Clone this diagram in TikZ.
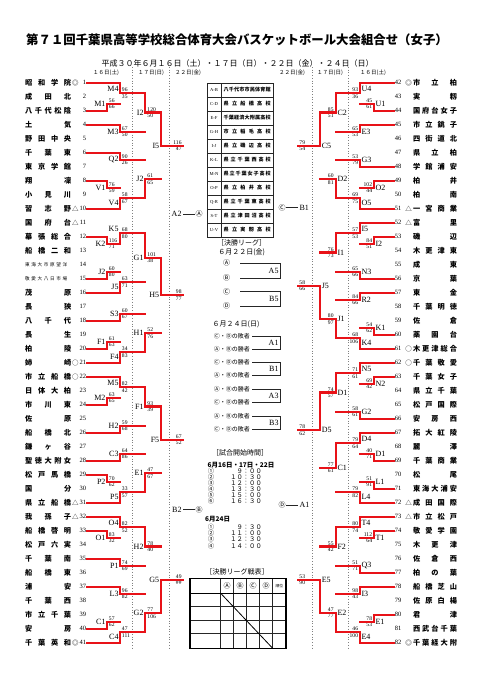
\documentclass[tikz,border=0pt]{standalone}
\usepackage{fontspec}
\setmainfont{Noto Sans CJK JP}
\newfontfamily\lat{Liberation Serif}
\usetikzlibrary{calc}
\pgfdeclarelayer{bg}
\pgfsetlayers{bg,main}
\definecolor{redc}{RGB}{232,18,24}
\makeatletter
\newcommand\spread[2]{\edef\sp@tmp{#2}\makebox[#1][s]{\expandafter\spread@a\sp@tmp\@nil}}
\def\spread@a#1#2\@nil{#1\ifx\relax#2\relax\else\hfill\spread@a#2\@nil\fi}
\makeatother
\def\labdy{0pt}
% match: id, x, top input, bottom input, code, top score, bottom score, label, score x
\newcommand\mt[9]{%
  \path let \p1=(#3), \p2=(#4) in coordinate (#1) at (#2pt,{0.5*\y1+0.5*\y2});
  \begin{pgfonlayer}{bg}\draw[bl] (#3) -- (#3 -| #1) -- (#4 -| #1) -- (#4);\end{pgfonlayer}
  \ifcase#5\relax
  \or \draw[rd] (#3) -- (#3 -| #1) -- (#1);
  \or \draw[rd] (#4) -- (#4 -| #1) -- (#1);
  \or \draw[rd] (#3) -- (#3 -| #1) -- (#1); \draw[rd] (#4) -- (#4 -| #1);
  \or \draw[rd] (#4) -- (#4 -| #1) -- (#1); \draw[rd] (#3) -- (#3 -| #1);
  \or \draw[rd] (#3) -- (#3 -| #1); \draw[rd] (#4) -- (#4 -| #1);
  \fi
  \node[lab,yshift=\labdy] (#1l) at (#1) {#8};
  \node[sc,sct] (#1a) at (#1 -| #9,0) {#6};
  \node[sc,scb] (#1b) at (#1 -| #9,0) {#7};
  \gdef\labdy{0pt}%
}
\newcommand\up{\gdef\labdy{4.5pt}}
\newcommand\dn{\gdef\labdy{-4.5pt}}
\begin{document}
\begin{tikzpicture}[x=1pt,y=-1pt,
  bl/.style={line width=0.7pt,black!85},
  rd/.style={line width=2.3pt,draw=redc,line cap=rect,line join=miter},
  dl/.style={line width=0.7pt,black!50,dotted},
  lab/.style={font=\fontsize{8}{8}\selectfont\lat,inner sep=0.3pt,anchor=east,xshift=-1pt},
  lab2/.style={font=\fontsize{8}{8}\selectfont\lat,inner sep=0.3pt,anchor=east},
  sc/.style={font=\fontsize{5.6}{6}\selectfont\lat,inner sep=0.25pt},
  sct/.style={anchor=south west,yshift=0.9pt},
  scb/.style={anchor=north west,yshift=-0.9pt},
  nm/.style={anchor=west,inner sep=0pt,font=\fontsize{7.2}{7}\selectfont\bfseries},
  num/.style={inner sep=0pt,font=\fontsize{6.5}{7}\selectfont\lat},
  sym/.style={inner sep=0pt,font=\fontsize{6.5}{7}\selectfont},
  cl/.style={inner sep=0pt,font=\fontsize{7}{7}\selectfont},
  jt/.style={inner sep=0pt}]
\useasboundingbox (0,0) rectangle (481,680);
\fill[white] (0,0) rectangle (481,680);
% titles
\node[jt,font=\fontsize{12.4}{13}\selectfont\bfseries] (title) at (237,40) {第７１回千葉県高等学校総合体育大会バスケットボール大会組合せ（女子）};
\node[jt,font=\fontsize{8}{9}\selectfont] (sub) at (237.5,63) {平成３０年６月１６日（土）・１７日（日）・２２日（金）・２４日（日）};
\node[jt,font=\fontsize{5.5}{6}\selectfont] (hl1) at (106,72.5) {１６日(土)};
\node[jt,font=\fontsize{5.5}{6}\selectfont] (hl2) at (151,72.5) {１７日(日)};
\node[jt,font=\fontsize{5.5}{6}\selectfont] (hl3) at (188,72.5) {２２日(金)};
\node[jt,font=\fontsize{5.5}{6}\selectfont] (hr3) at (292,72.5) {２２日(金)};
\node[jt,font=\fontsize{5.5}{6}\selectfont] (hr2) at (330,72.5) {１７日(日)};
\node[jt,font=\fontsize{5.5}{6}\selectfont] (hr1) at (373,72.5) {１６日(土)};
\draw[dl] (132.7,67) -- (132.7,650);
\draw[dl] (169,67) -- (169,650);
\draw[dl] (312,67) -- (312,650);
\draw[dl] (348.3,67) -- (348.3,650);
% left teams
\foreach \i in {1,...,41}{
  \coordinate (L\i) at (87,{82.7+14*(\i-1)});
  \node[num,anchor=east] (nL\i) at (86.3,{82.7+14*(\i-1)}) {\i};
}
\foreach \i/\n/\s in {1/昭和学院/◎,2/成田北/,3/八千代松陰/,4/土気/,5/野田中央/,6/千葉東/,7/東京学館/,8/翔凜/,9/小見川/,10/習志野/△,11/国府台/△,12/幕張総合/,13/船橋二和/,16/茂原/,17/長狭/,18/八千代/,19/長生/,20/柏陵/,21/姉崎/○,22/市立船橋/○,23/日体大柏/,24/市川東/,25/佐原/,26/船橋北/,27/鎌ヶ谷/,28/聖徳大附女/,29/松戸馬橋/,30/国分/,31/県立船橋/△,32/我孫子/△,33/船橋啓明/,34/松戸六実/,35/千葉南/,36/船橋東/,37/浦安/,38/千葉西/,39/市立千葉/,40/安房/,41/千葉英和/◎}{
  \node[nm] (tL\i) at (25,{82.7+14*(\i-1)}) {\spread{46pt}{\n}};
  \node[sym] (sL\i) at (75.3,{82.7+14*(\i-1)}) {\s};
}
\node[nm,font=\fontsize{4.6}{5}\selectfont] (tL14) at (25,264.7) {\spread{42pt}{東海大市原望洋}};
\node[nm,font=\fontsize{4.6}{5}\selectfont] (tL15) at (25,278.7) {\spread{42pt}{敬愛大八日市場}};
% right teams
\foreach \i in {42,...,82}{
  \coordinate (R\i) at (393.5,{82.7+14*(\i-42)});
  \node[num,anchor=west] (nR\i) at (394.6,{82.7+14*(\i-42)}) {\i};
}
\foreach \i/\n/\s in {42/市立柏/◎,43/実籾/,44/国府台女子/,45/市立銚子/,46/四街道北/,47/県立柏/,48/学館浦安/,49/柏井/,50/柏南/,51/一宮商業/△,52/富里/△,53/磯辺/,54/木更津東/,55/成東/,56/京葉/,57/東金/,58/千葉明徳/,59/佐倉/,60/薬園台/,61/木更津総合/○,62/千葉敬愛/○,63/千葉女子/,64/県立千葉/,65/松戸国際/,66/安房西/,67/拓大紅陵/,68/麗澤/,69/千葉商業/,70/松尾/,71/東海大浦安/,72/成田国際/△,73/市立松戸/△,74/敬愛学園/,75/木更津/,76/佐倉西/,77/柏の葉/,78/船橋芝山/,79/佐原白楊/,80/君津/,81/西武台千葉/,82/千葉経大附/◎}{
  \node[nm] (tR\i) at (412.8,{82.7+14*(\i-42)}) {\spread{44pt}{\n}};
  \node[sym] (sR\i) at (408.5,{82.7+14*(\i-42)}) {\s};
}
% ---------- left bracket
\mt{LM1}{107}{L2}{L3}{2}{56}{66}{M1}{108.5}
\mt{LV1}{107}{L8}{L9}{1}{76}{59}{V1}{108.5}
\mt{LK2}{107}{L12}{L13}{1}{116}{71}{K2}{108.5}
\mt{LJ2}{107}{L14}{L15}{2}{60}{80}{J2}{108.5}
\mt{LF1}{107}{L19}{L20}{2}{61}{63}{F1}{108.5}
\mt{LM2}{107}{L23}{L24}{2}{63}{65}{M2}{108.5}
\mt{LP2}{107}{L29}{L30}{1}{70}{62}{P2}{108.5}
\mt{LO1}{107}{L33}{L34}{1}{83}{32}{O1}{108.5}
\mt{LC1}{107}{L39}{L40}{2}{57}{62}{C1}{108.5}
\up\mt{LM4}{120}{L1}{LM1}{3}{96}{35}{M4}{121.5}
\mt{LM3}{120}{L4}{L5}{1}{67}{50}{M3}{121.5}
\mt{LQ2}{120}{L6}{L7}{1}{90}{26}{Q2}{121.5}
\dn\mt{LV4}{120}{LV1}{L10}{4}{58}{67}{V4}{121.5}
\up\mt{LK5}{120}{L11}{LK2}{2}{68}{80}{K5}{121.5}
\dn\mt{LJ5}{120}{LJ2}{L16}{4}{63}{71}{J5}{121.5}
\mt{LS3}{120}{L17}{L18}{2}{60}{67}{S3}{121.5}
\dn\mt{LF4}{120}{LF1}{L21}{4}{34}{83}{F4}{121.5}
\up\mt{LM5}{120}{L22}{LM2}{3}{82}{42}{M5}{121.5}
\mt{LH2}{120}{L25}{L26}{2}{59}{68}{H2}{121.5}
\mt{LC3}{120}{L27}{L28}{2}{64}{86}{C3}{121.5}
\dn\mt{LP5}{120}{LP2}{L31}{4}{33}{57}{P5}{121.5}
\up\mt{LO4}{120}{L32}{LO1}{3}{82}{52}{O4}{121.5}
\mt{LP1}{120}{L35}{L36}{1}{74}{69}{P1}{121.5}
\mt{LL3}{120}{L37}{L38}{1}{96}{82}{L3}{121.5}
\dn\mt{LC4}{120}{LC1}{L41}{4}{47}{111}{C4}{121.5}
\mt{LI2}{145}{LM4}{LM3}{3}{120}{50}{I2}{147}
\mt{LJ2b}{145}{LQ2}{LV4}{4}{61}{65}{J2}{147}
\mt{LG1}{145}{LK5}{LJ5}{3}{101}{38}{G1}{147}
\mt{LH1}{145}{LS3}{LF4}{4}{52}{76}{H1}{147}
\mt{LF1b}{145}{LM5}{LH2}{3}{93}{39}{F1}{147}
\mt{LE1}{145}{LC3}{LP5}{4}{47}{67}{E1}{147}
\mt{LH2b}{145}{LO4}{LP1}{3}{78}{40}{H2}{147}
\mt{LG2}{145}{LL3}{LC4}{4}{77}{106}{G2}{147}
\tikzset{sct/.style={anchor=south east,yshift=0.9pt},scb/.style={anchor=north east,yshift=-0.9pt}}
\mt{LI5}{160.7}{LI2}{LJ2b}{3}{116}{47}{I5}{182}
\mt{LH5}{160.7}{LG1}{LH1}{3}{98}{77}{H5}{182}
\mt{LF5}{160.7}{LF1b}{LE1}{3}{67}{52}{F5}{182}
\mt{LG5}{160.7}{LH2b}{LG2}{4}{49}{\#\#}{G5}{182}
\gdef\labdy{6.5pt}\mt{LA2}{183}{LI5}{LH5}{5}{}{}{A2}{183}
\mt{LB2}{183}{LF5}{LG5}{5}{}{}{B2}{183}
\coordinate (LA2c) at ($(LA2)+(0,-6.5)$);
\node[cl] (cA) at ($(LA2c)+(16,0)$) {Ⓐ};
\draw[bl] (LA2c) -- (cA);
\node[cl] (cB) at ($(LB2)+(16,0)$) {Ⓑ};
\draw[bl] (LB2) -- (cB);
% ---------- right bracket
\tikzset{lab/.style={font=\fontsize{8}{8}\selectfont\lat,inner sep=0.3pt,anchor=west,xshift=1pt},
  sct/.style={anchor=south east,yshift=0.9pt},scb/.style={anchor=north east,yshift=-0.9pt}}
\mt{RU1}{374}{R43}{R44}{2}{45}{61}{U1}{372.5}
\mt{RO2}{374}{R49}{R50}{1}{102}{44}{O2}{372.5}
\mt{RI2}{374}{R53}{R54}{1}{84}{51}{I2}{372.5}
\mt{RK1}{374}{R59}{R60}{2}{54}{62}{K1}{372.5}
\mt{RN2}{374}{R63}{R64}{1}{69}{42}{N2}{372.5}
\mt{RD1}{374}{R68}{R69}{2}{40}{71}{D1}{372.5}
\mt{RL1}{374}{R70}{R71}{2}{51}{91}{L1}{372.5}
\mt{RT1}{374}{R74}{R75}{1}{112}{64}{T1}{372.5}
\mt{RE1}{374}{R80}{R81}{1}{78}{53}{E1}{372.5}
\up\mt{RU4}{360}{R42}{RU1}{3}{93}{36}{U4}{358.5}
\mt{RE3}{360}{R45}{R46}{1}{65}{53}{E3}{358.5}
\mt{RG3}{360}{R47}{R48}{2}{53}{79}{G3}{358.5}
\dn\mt{RO5}{360}{RO2}{R51}{4}{69}{75}{O5}{358.5}
\up\mt{RI5}{360}{R52}{RI2}{3}{57}{53}{I5}{358.5}
\mt{RN3}{360}{R55}{R56}{2}{65}{66}{N3}{358.5}
\mt{RR2}{360}{R57}{R58}{1}{84}{66}{R2}{358.5}
\dn\mt{RK4}{360}{RK1}{R61}{4}{68}{106}{K4}{358.5}
\up\mt{RN5}{360}{R62}{RN2}{3}{71}{61}{N5}{358.5}
\mt{RG2}{360}{R65}{R66}{2}{58}{61}{G2}{358.5}
\up\mt{RD4}{360}{R67}{RD1}{3}{79}{64}{D4}{358.5}
\dn\mt{RL4}{360}{RL1}{R72}{4}{79}{82}{L4}{358.5}
\up\mt{RT4}{360}{R73}{RT1}{3}{80}{74}{T4}{358.5}
\mt{RQ3}{360}{R76}{R77}{2}{51}{71}{Q3}{358.5}
\mt{RI3}{360}{R78}{R79}{1}{98}{43}{I3}{358.5}
\dn\mt{RE4}{360}{RE1}{R82}{4}{46}{100}{E4}{358.5}
\mt{RC2}{336}{RU4}{RE3}{3}{85}{51}{C2}{334}
\mt{RD2}{336}{RG3}{RO5}{4}{60}{81}{D2}{334}
\mt{RI1}{336}{RI5}{RN3}{3}{76}{73}{I1}{334}
\mt{RJ1}{336}{RR2}{RK4}{4}{80}{97}{J1}{334}
\mt{RD1b}{336}{RN5}{RG2}{3}{74}{57}{D1}{334}
\mt{RC1}{336}{RD4}{RL4}{3}{77}{61}{C1}{334}
\mt{RF2}{336}{RT4}{RQ3}{3}{55}{42}{F2}{334}
\mt{RE2}{336}{RI3}{RE4}{4}{47}{77}{E2}{334}
\tikzset{sct/.style={anchor=south west,yshift=0.9pt},scb/.style={anchor=north west,yshift=-0.9pt}}
\mt{RC5}{320.3}{RC2}{RD2}{3}{79}{54}{C5}{299}
\mt{RJ5}{320.3}{RI1}{RJ1}{4}{58}{66}{J5}{299}
\mt{RD5}{320.3}{RD1b}{RC1}{3}{78}{62}{D5}{299}
\mt{RE5}{320.3}{RF2}{RE2}{4}{53}{90}{E5}{299}
\gdef\labdy{8pt}\mt{RB1}{298}{RC5}{RJ5}{5}{}{}{B1}{298}
\mt{RA1}{298}{RD5}{RE5}{5}{}{}{A1}{298}
\coordinate (RB1c) at ($(RB1)+(0,-8)$);
\node[cl] (cC) at ($(RB1c)+(-16,0)$) {Ⓒ};
\draw[bl] (RB1c) -- (cC);
\node[cl] (cD) at ($(RA1)+(-16,0)$) {Ⓓ};
\draw[bl] (RA1) -- (cD);
% ---------- venue table
\draw[bl] (207,83) rectangle (273,237);
\draw[bl] (221,83) -- (221,237);
\foreach \k in {1,...,10}{\draw[bl] (207,{83+14*\k}) -- (273,{83+14*\k});}
\foreach \k/\c/\v in {0/A-B/八千代市市民体育館,1/C-D/県立船橋高校,2/E-F/千葉経済大附属高校,3/G-H/市立稲毛高校,4/I-J/県立磯辺高校,5/K-L/県立千葉西高校,6/M-N/県立千葉女子高校,7/O-P/県立柏井高校,8/Q-R/県立千葉東高校,9/S-T/県立津田沼高校,10/U-V/県立実籾高校}{
  \node[jt,font=\fontsize{4.6}{5}\selectfont\lat] (vc\k) at (214,{90+14*\k}) {\c};
  \node[jt,anchor=west,font=\fontsize{5.1}{6}\selectfont\bfseries] (vn\k) at (223.5,{90+14*\k}) {\spread{47pt}{\v}};
}
% ---------- final league
\node[jt,font=\fontsize{7}{7}\selectfont] (lgT) at (241.7,242.7) {［決勝リーグ］};
\node[jt,font=\fontsize{7}{7}\selectfont] (lgD) at (241.7,252) {６月２２日(金)};
\node[cl] (gA) at (226.7,263.3) {Ⓐ};
\node[cl] (gB) at (226.7,278.3) {Ⓑ};
\node[cl] (gC) at (226.7,291.7) {Ⓒ};
\node[cl] (gD) at (226.7,306) {Ⓓ};
\draw[bl] (240,263.3) -| (280,278.3) -- (240,278.3);
\draw[bl] (240,291.7) -| (280,306) -- (240,306);
\node[lab2] (A5) at (279,270.8) {A5};
\node[lab2] (B5) at (279,298.9) {B5};
\node[jt,font=\fontsize{7}{7}\selectfont] (d24) at (236,324) {６月２４日(日)};
\foreach \y/\t [count=\j] in {336/Ⓒ・Ⓓの敗者,349/Ⓐ・Ⓑの勝者,362/Ⓒ・Ⓓの勝者,375/Ⓐ・Ⓑの敗者,389/Ⓐ・Ⓑの勝者,402/Ⓒ・Ⓓの勝者,416/Ⓐ・Ⓑの敗者,429/Ⓒ・Ⓓの敗者}{
  \node[jt,anchor=east,font=\fontsize{6}{6}\selectfont] (lg\j) at (250,\y) {\t};
}
\foreach \a/\b/\l in {336/349/A1,362/375/B1,389/402/A3,416/429/B3}{
  \draw[bl] (252,\a) -| (280,\b) -- (252,\b);
  \node[lab2] (g\l) at (279,{(\a+\b)/2}) {\l};
}
% ---------- times
\node[jt,font=\fontsize{7}{7}\selectfont] (tmT) at (240,453) {［試合開始時間］};
\node[jt,font=\fontsize{6.5}{7}\selectfont\bfseries] (tm1) at (241,465) {6月16日・17日・22日};
\foreach \y/\c/\t [count=\j] in {471.5/①/９：００,477.5/②/１０：３０,483.5/③/１２：００,489.5/④/１３：３０,495.5/⑤/１５：００,501.5/⑥/１６：３０}{
  \node[jt,font=\fontsize{6.3}{6}\selectfont] (tc\j) at (211,\y) {\c};
  \node[jt,anchor=east,font=\fontsize{6.3}{6}\selectfont] (tt\j) at (262,\y) {\t};
}
\node[jt,anchor=west,font=\fontsize{6.5}{7}\selectfont\bfseries] (tm2) at (205,519) {6月24日};
\foreach \y/\c/\t [count=\j] in {527.3/①/９：３０,533.3/②/１１：００,539.3/③/１２：３０,546/④/１４：００}{
  \node[jt,font=\fontsize{6.3}{6}\selectfont] (uc\j) at (211,\y) {\c};
  \node[jt,anchor=east,font=\fontsize{6.3}{6}\selectfont] (ut\j) at (262,\y) {\t};
}
% ---------- league table
\node[jt,font=\fontsize{7}{7}\selectfont] (ltT) at (237,571.7) {［決勝リーグ戦表］};
\foreach \x in {220.7,233.3,246.7,259.3,272.7}{\draw[bl] (\x,578.3) -- (\x,648.3);}
\foreach \y in {606.7,620,633.3}{\draw[bl] (190,\y) -- (286,\y);}
\draw[line width=1.1pt] (190,593.3) -- (286,593.3);
\draw[line width=0.8pt] (220.7,593.3) -- (272.7,648.3);
\draw[line width=1.5pt] (190,578.3) rectangle (286,648.3);
\node[cl] (hA) at (227,585.8) {Ⓐ};
\node[cl] (hB) at (240,585.8) {Ⓑ};
\node[cl] (hC) at (253,585.8) {Ⓒ};
\node[cl] (hD) at (266,585.8) {Ⓓ};
\node[jt,font=\fontsize{3.8}{4}\selectfont] (hR) at (279.3,585.8) {順位};
\end{tikzpicture}
\end{document}
